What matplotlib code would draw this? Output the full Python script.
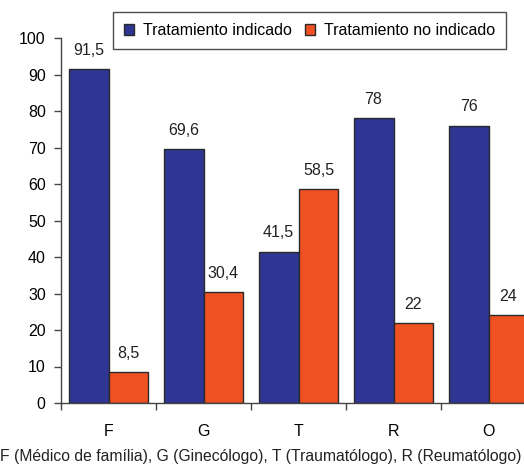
import numpy as np
import matplotlib
matplotlib.use("Agg")
from matplotlib import pyplot as plt

plt.rcParams['font.family'] = ['Liberation Sans', 'DejaVu Sans']

# specialty groups and percentages
categories = ["F", "G", "T", "R", "O"]
indicado = [91.5, 69.6, 41.5, 78, 76]
no_indicado = [8.5, 30.4, 58.5, 22, 24]
labels_indicado = ["91,5", "69,6", "41,5", "78", "76"]
labels_no_indicado = ["8,5", "30,4", "58,5", "22", "24"]

blue = "#2E3592"
orange = "#F05123"
edge = "#2a2a2a"
fs = 11.5

fig = plt.figure(figsize=(5.24, 4.66), dpi=100)
ax = fig.add_axes([61 / 524, 63 / 466, 475 / 524, 365 / 466])

x = np.arange(len(categories))
w = 0.42
b1 = ax.bar(x - w / 2, indicado, w, color=blue, edgecolor=edge, linewidth=1,
            label="Tratamiento indicado")
b2 = ax.bar(x + w / 2, no_indicado, w, color=orange, edgecolor=edge, linewidth=1,
            label="Tratamiento no indicado")

for bars, labs in ((b1, labels_indicado), (b2, labels_no_indicado)):
    for bar, lab in zip(bars, labs):
        ax.annotate(lab, (bar.get_x() + bar.get_width() / 2, bar.get_height()),
                    xytext=(0, 8), textcoords="offset points",
                    ha="center", va="bottom", fontsize=fs, color="#222222")

ax.set_xlim(-0.5, len(categories) - 0.5)
ax.set_ylim(0, 100)
ax.set_yticks(np.arange(0, 101, 10))

# boundary ticks between groups, labels at group centres
ax.set_xticks(np.arange(len(categories) + 1) - 0.5)
ax.set_xticklabels([])
ax.set_xticks(x, minor=True)
ax.set_xticklabels(categories, minor=True)
ax.tick_params(axis="x", which="minor", length=0, pad=15, labelsize=fs)
ax.tick_params(axis="x", which="major", length=5, width=1, color="#444444")
ax.tick_params(axis="y", length=5, width=1, color="#444444", labelsize=fs, pad=6)

for s in ("top", "right"):
    ax.spines[s].set_visible(False)
for s in ("left", "bottom"):
    ax.spines[s].set_color("#444444")
    ax.spines[s].set_linewidth(1)

leg = fig.legend(handles=[b1, b2], loc="upper left",
                 bbox_to_anchor=(113 / 524, 1 - 12 / 466), ncol=2,
                 frameon=True, fancybox=False, edgecolor="#222222",
                 fontsize=fs, handlelength=0.6, handleheight=0.6,
                 handletextpad=0.6, columnspacing=0.8, borderpad=0.7,
                 borderaxespad=0)
leg.get_frame().set_linewidth(1)

fig.text(261 / 524, 9 / 466, "F (Médico de família), G (Ginecólogo), T (Traumatólogo), R (Reumatólogo)",
         ha="center", va="center", fontsize=11.3, color="#222222")

fig.savefig("out.png", dpi=100)
